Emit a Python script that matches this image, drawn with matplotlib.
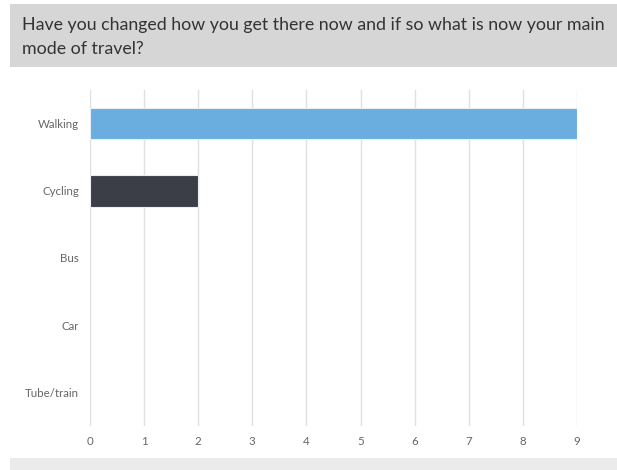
import matplotlib
matplotlib.use("Agg")
import matplotlib.pyplot as plt
from matplotlib.patches import Rectangle

categories = ["Walking", "Cycling", "Bus", "Car", "Tube/train"]
values = [9, 2, 0, 0, 0]
colors = ["#6aaddf", "#3b3e46", "#6aaddf", "#6aaddf", "#6aaddf"]
ticks = [0, 1, 2, 3, 4, 5, 6, 7, 8, 9]
title = "Have you changed how you get there now and if so what is now your main\nmode of travel?"

W, H = 617, 470
fig = plt.figure(figsize=(W / 100, H / 100), dpi=100)
fig.patch.set_facecolor("white")

# title box
fig.patches.append(Rectangle((10 / W, 1 - 67 / H), 1 - 10 / W, 63 / H,
                             transform=fig.transFigure, facecolor="#d6d6d6",
                             edgecolor="none", zorder=0))
t = fig.text(22 / W, 1 - 37 / H, title, ha="left", va="center",
             fontsize=15.5, color="#333333", family="Lato", linespacing=1.6)
fig.canvas.draw()
bb = t.get_window_extent()
target = 581
t.set_fontsize(15.5 * target / bb.width)

# bottom strip
fig.patches.append(Rectangle((10 / W, 0), 1 - 10 / W, 12 / H,
                             transform=fig.transFigure, facecolor="#ebebeb",
                             edgecolor="none", zorder=0))

left, right = 90 / W, 577 / W
top, bottom = 1 - 90 / H, 1 - 426 / H
ax = fig.add_axes([left, bottom, right - left, top - bottom])
y = list(range(len(categories)))
lws = [0.8 if v > 0 else 0 for v in values]
ax.barh(y, values, height=0.47, color=colors, edgecolor="#e8eef4",
        linewidth=lws, zorder=3)
ax.set_ylim(len(categories) - 0.5, -0.5)
ax.set_xlim(0, 9)
ax.set_xticks(ticks)
ax.set_xticklabels([str(t) for t in ticks])
ax.set_yticks(y)
ax.set_yticklabels(categories)
ax.grid(axis="x", color="#e0e0e0", linewidth=1, zorder=0)
for s in ax.spines.values():
    s.set_visible(False)
ax.tick_params(axis="both", length=0, labelsize=8.3, labelcolor="#666666")
ax.tick_params(axis="y", pad=8)
ax.tick_params(axis="x", pad=7)
for lab in ax.get_xticklabels() + ax.get_yticklabels():
    lab.set_family("Lato")

fig.savefig("out.png", dpi=100)
